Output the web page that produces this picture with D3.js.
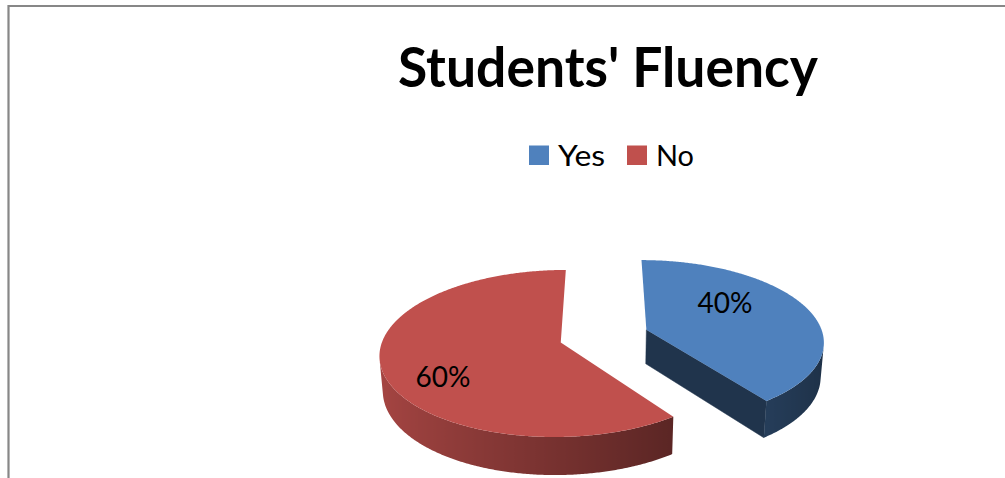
<!DOCTYPE html>
<html>
<head>
<meta charset="utf-8">
<script src="https://cdn.jsdelivr.net/npm/d3@7"></script>
<style>
  html, body { margin: 0; padding: 0; background: #fff; }
  svg { display: block; }
  text { font-family: Lato, "Open Sans", "DejaVu Sans", sans-serif; fill: #000; }
</style>
</head>
<body>
<svg id="chart" width="1005" height="478"></svg>
<script>
// Survey answers
const categories = ["Yes", "No"];
const values = [40, 60];
const valueLabels = ["40%", "60%"];
const colors = ["#4F81BD", "#C0504D"];
const title = "Students' Fluency";

// 3D pie geometry (tilted disc, perspective camera)
const W = 1005, H = 478;
const cx = 604, cy = 336;
const radius = 177, thickness = 39, explode = 45;
const tilt = 27 * Math.PI / 180, focal = 1200;
const sinT = Math.sin(tilt), cosT = Math.cos(tilt);

// label anchors inside each slice: fraction along the slice angle, fraction of radius
const labelAnchor = [[0.37, 0.60], [0.43, 0.73]];

const svg = d3.select("#chart");
const defs = svg.append("defs");

// chart frame
svg.append("path")
  .attr("d", `M8.5,${H} V6 H${W}`)
  .attr("fill", "none")
  .attr("stroke", "#878787")
  .attr("stroke-width", 2.2);

// title
svg.append("text")
  .attr("x", 608).attr("y", 87)
  .attr("text-anchor", "middle")
  .attr("font-size", 55).attr("font-weight", 700)
  .attr("textLength", 420).attr("lengthAdjust", "spacingAndGlyphs")
  .text(title);

// legend
const legendX = [529, 627];
const legendTextW = [47, 38];
const legend = svg.append("g");
categories.forEach((c, i) => {
  legend.append("rect")
    .attr("x", legendX[i]).attr("y", 145.5)
    .attr("width", 20).attr("height", 19.5)
    .attr("fill", colors[i]);
  legend.append("text")
    .attr("x", legendX[i] + 29).attr("y", 165.5)
    .attr("font-size", 29)
    .attr("textLength", legendTextW[i]).attr("lengthAdjust", "spacingAndGlyphs")
    .text(c);
});

// projection of a world point (X right, Y up, Z toward viewer)
function project(X, Y, Z) {
  const zc = Z * cosT + Y * sinT;
  const yc = Y * cosT - Z * sinT;
  const s = focal / (focal - zc);
  return [cx + X * s, cy - yc * s];
}
const camera = [0, focal * sinT, focal * cosT];
// cosine between a face normal and the direction to the camera
function facing(n, p) {
  const d = [camera[0] - p[0], camera[1] - p[1], camera[2] - p[2]];
  const len = Math.hypot(...d);
  return (n[0] * d[0] + n[1] * d[1] + n[2] * d[2]) / len;
}
function shade(base, k) {
  const c = d3.rgb(base);
  return d3.rgb(c.r * k, c.g * k, c.b * k).formatHex();
}
// side shading: lighter on the left, darker towards the right
const sideLight = d3.scaleLinear().domain([-1, 1]).range([0.87, 0.37]);

const pie = d3.pie().sort(null).startAngle(0).endAngle(2 * Math.PI);
const arcs = pie(values);
const line = d3.line();

const slices = arcs.map((a, i) => {
  const mid = (a.startAngle + a.endAngle) / 2;
  const ox = explode * Math.sin(mid), oz = -explode * Math.cos(mid);
  const P = (th, r, y) => [ox + r * Math.sin(th), y, oz - r * Math.cos(th)];
  return { a, i, ox, oz, P };
});

// far slices first
slices.sort((s1, s2) => s1.oz - s2.oz);

const gPie = svg.append("g");
slices.forEach(sl => {
  const { a, i, P } = sl;
  const g = gPie.append("g");
  const a0 = a.startAngle, a1 = a.endAngle;
  const sideCol = shade(colors[i], 0.4);

  // radial cut faces (edge-on faces are skipped)
  [[a0, -1], [a1, 1]].forEach(([th, sgn]) => {
    const n = [sgn * Math.cos(th), 0, sgn * Math.sin(th)];
    const c0 = P(th, 0, 0), e0 = P(th, radius, 0), e1 = P(th, radius, -thickness), c1 = P(th, 0, -thickness);
    const mid3 = [(c0[0] + e1[0]) / 2, -thickness / 2, (c0[2] + e1[2]) / 2];
    if (facing(n, mid3) < 0.1) return;
    const pts = [c0, e0, e1, c1].map(p => project(...p));
    g.append("path").attr("d", line(pts) + "Z")
      .attr("fill", sideCol).attr("stroke", sideCol).attr("stroke-width", 0.5);
  });

  // outer wall: the run of angles that face the camera, one path with a horizontal gradient
  const steps = Math.max(2, Math.ceil((a1 - a0) / (Math.PI / 360)));
  const angles = d3.range(steps + 1).map(k => a0 + (a1 - a0) * k / steps);
  const vis = angles.filter(t => facing([Math.sin(t), 0, -Math.cos(t)], P(t, radius, -thickness / 2)) > 0);
  if (vis.length > 1) {
    const topPts = vis.map(t => project(...P(t, radius, 0)));
    const botPts = vis.map(t => project(...P(t, radius, -thickness))).reverse();
    const xs = topPts.map(p => p[0]);
    const xMin = d3.min(xs), xMax = d3.max(xs);
    const gid = "wall" + i;
    const grad = defs.append("linearGradient").attr("id", gid)
      .attr("gradientUnits", "userSpaceOnUse")
      .attr("x1", xMin).attr("x2", xMax).attr("y1", 0).attr("y2", 0);
    const stops = vis.map((t, k) => ({ o: (xs[k] - xMin) / (xMax - xMin || 1), c: shade(colors[i], sideLight(Math.sin(t))) }))
      .sort((u, v) => u.o - v.o);
    grad.selectAll("stop").data(stops).join("stop")
      .attr("offset", d => d.o).attr("stop-color", d => d.c);
    g.append("path").attr("d", line(topPts.concat(botPts)) + "Z")
      .attr("fill", `url(#${gid})`);
  }

  // top face
  const top = [project(...P(0, 0, 0))].concat(angles.map(t => project(...P(t, radius, 0))));
  g.append("path").attr("d", line(top) + "Z")
    .attr("fill", colors[i]);
});

// value labels
arcs.forEach((a, i) => {
  const sl = slices.find(s => s.i === i);
  const th = a.startAngle + (a.endAngle - a.startAngle) * labelAnchor[i][0];
  const p = project(...sl.P(th, radius * labelAnchor[i][1], 0));
  svg.append("text")
    .attr("x", p[0]).attr("y", p[1])
    .attr("dy", "0.36em")
    .attr("text-anchor", "middle")
    .attr("font-size", 28)
    .text(valueLabels[i]);
});
</script>
</body>
</html>
